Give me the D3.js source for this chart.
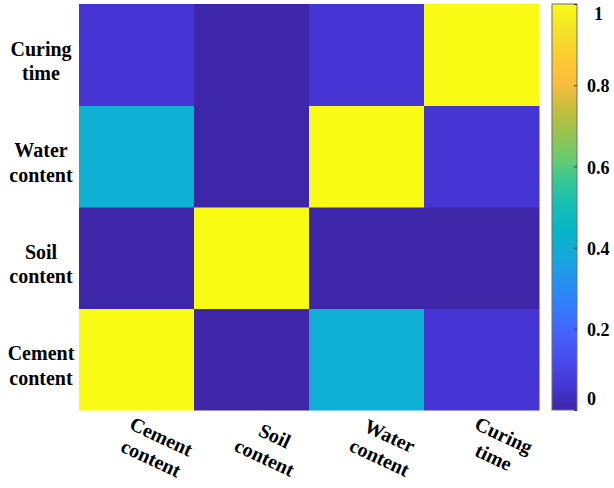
<!DOCTYPE html>
<html>
<head>
<meta charset="utf-8">
<script src="https://cdn.jsdelivr.net/npm/d3@7"></script>
<style>
  html, body { margin: 0; padding: 0; background: #fff; }
  svg { display: block; }
</style>
</head>
<body>
<svg id="chart" width="614" height="488"></svg>
<script>
// ---- data ----
const categories = ["Cement content", "Soil content", "Water content", "Curing time"];
const cementRow = [1.00, 0.00, 0.41, 0.06];
const soilRow   = [0.00, 1.00, 0.00, 0.00];
const waterRow  = [0.41, 0.00, 1.00, 0.06];
const curingRow = [0.06, 0.00, 0.06, 1.00];
const colorbarTicks = [0, 0.2, 0.4, 0.6, 0.8, 1];
const colorbarTickLabels = ["0", "0.2", "0.4", "0.6", "0.8", "1"];

// parula colormap anchors
const parulaStops = [0, 0.0627, 0.125, 0.1843, 0.247, 0.31, 0.375, 0.44, 0.5, 0.56, 0.625, 0.69, 0.75, 0.81, 0.87, 0.94, 1];
const parulaColors = [
  [0.2422,0.1504,0.6603],[0.2704,0.2138,0.8346],[0.2813,0.2985,0.9397],[0.2726,0.3804,0.9881],
  [0.2066,0.4743,0.9926],[0.15,0.56,0.94],[0.09,0.655,0.87],[0.02,0.71,0.78],[0.08,0.745,0.72],
  [0.20,0.78,0.60],[0.42,0.80,0.42],[0.62,0.76,0.30],[0.80,0.74,0.23],[0.99,0.74,0.24],
  [0.99,0.80,0.19],[0.96,0.89,0.15],[0.9769,0.9839,0.0805]
].map(c => d3.rgb(c[0]*255, c[1]*255, c[2]*255).formatHex());

const FONT = "'Liberation Serif', 'Times New Roman', Times, serif";

const matrix = [cementRow, soilRow, waterRow, curingRow];
const cells = [];
categories.forEach((rc, i) => categories.forEach((cc, j) => cells.push({row: rc, col: cc, v: matrix[i][j]})));

// ---- layout ----
const svg = d3.select("#chart");
const plot = {left: 79, right: 539, top: 4, bottom: 410};
const cbar = {left: 552, right: 577};

const x = d3.scaleBand().domain(categories).range([plot.left, plot.right]);
const y = d3.scaleBand().domain(categories).range([plot.bottom, plot.top]);
const color = d3.scaleLinear().domain(parulaStops).range(parulaColors).interpolate(d3.interpolateRgb).clamp(true);

// cells
svg.append("g").selectAll("rect").data(cells).join("rect")
  .attr("x", d => x(d.col))
  .attr("y", d => y(d.row))
  .attr("width", x.bandwidth() + 0.5)
  .attr("height", y.bandwidth() + 0.5)
  .attr("fill", d => color(d.v));

// y labels (two lines)
const yl = svg.append("g").attr("font-family", FONT).attr("font-weight", "bold").attr("fill", "#000");
categories.forEach(c => {
  const words = c.split(" ");
  const cy = y(c) + y.bandwidth() / 2;
  const t = yl.append("text").attr("text-anchor", "middle").attr("font-size", 20);
  t.append("tspan").attr("x", 41).attr("y", cy + 1).text(words[0]);
  t.append("tspan").attr("x", 41).attr("y", cy + 25.5).text(words[1]);
});

// x labels (rotated, two lines, centred)
const xl = svg.append("g").attr("font-family", FONT).attr("font-weight", "bold").attr("fill", "#000");
categories.forEach(c => {
  const words = c.split(" ");
  const cx = x(c) + x.bandwidth() / 2;
  const g = xl.append("g").attr("transform", `translate(${cx - 2},${plot.bottom + 5}) rotate(25)`);
  const t = g.append("text").attr("text-anchor", "middle").attr("font-size", 20);
  const s1 = t.append("tspan").attr("y", 15).text(words[0]);
  const s2 = t.append("tspan").attr("y", 39).text(words[1]);
  const w = Math.max(s1.node().getComputedTextLength(), s2.node().getComputedTextLength());
  s1.attr("x", w / 2);
  s2.attr("x", w / 2);
});

// colorbar
const cScale = d3.scaleLinear().domain([0, 1]).range([plot.bottom, plot.top]);
const defs = svg.append("defs");
const grad = defs.append("linearGradient").attr("id", "parula")
  .attr("x1", 0).attr("y1", 1).attr("x2", 0).attr("y2", 0);
grad.selectAll("stop").data(parulaStops).join("stop")
  .attr("offset", d => d)
  .attr("stop-color", (d, i) => parulaColors[i]);
svg.append("rect")
  .attr("x", cbar.left).attr("y", cScale(1))
  .attr("width", cbar.right - cbar.left).attr("height", cScale(0) - cScale(1))
  .attr("fill", "url(#parula)")
  .attr("stroke", "#6e6e6e").attr("stroke-width", 1);

const cAxis = d3.axisRight(cScale)
  .tickValues(colorbarTicks)
  .tickFormat((d, i) => colorbarTickLabels[i])
  .tickSizeInner(-3).tickSizeOuter(0).tickPadding(10);
const ca = svg.append("g").attr("transform", `translate(${cbar.right},0)`).call(cAxis)
  .attr("font-family", FONT).attr("font-size", 18).attr("font-weight", "bold");
ca.select(".domain").remove();
ca.selectAll(".tick line").attr("stroke", "#333");
ca.selectAll(".tick text")
  .attr("fill", "#000")
  .attr("transform", d => d === 1 ? "translate(7,10)" : d === 0 ? "translate(0,-11)" : "translate(0,1)");
</script>
</body>
</html>
